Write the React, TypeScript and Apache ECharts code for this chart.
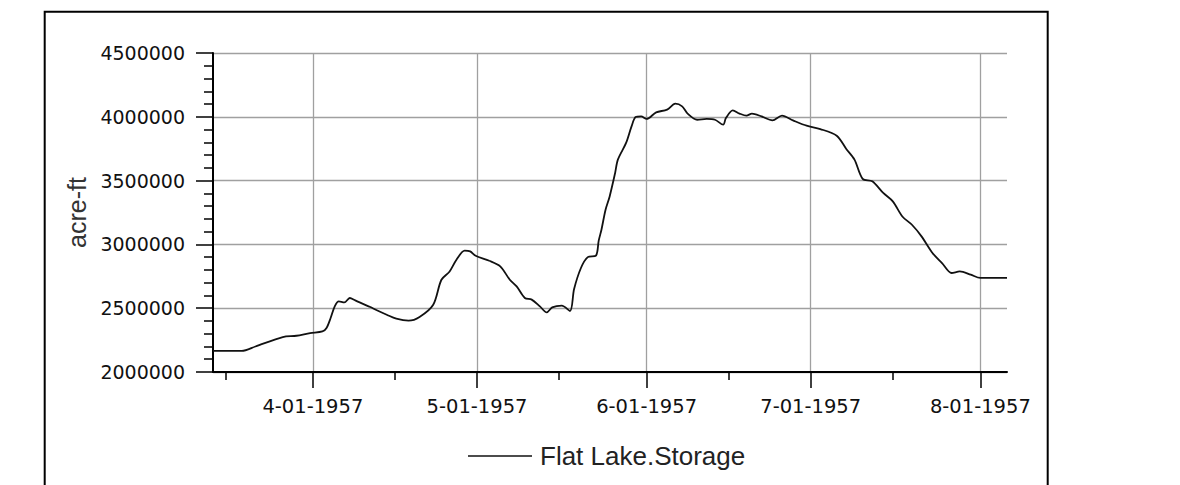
import React, { useEffect, useRef } from "react";
import * as echarts from "echarts";

// ---- data ----
const TIMES: string[] = [
  "1957-03-13T18", "1957-03-19T00", "1957-03-21T12", "1957-03-26T12", "1957-03-29T00",
  "1957-03-31T12", "1957-04-02T18", "1957-04-03T12", "1957-04-04T06", "1957-04-05T00",
  "1957-04-05T18", "1957-04-06T18", "1957-04-07T18", "1957-04-08T18", "1957-04-11T12",
  "1957-04-12T12", "1957-04-14T12", "1957-04-16T06", "1957-04-18T12", "1957-04-20T12",
  "1957-04-23T00", "1957-04-24T12", "1957-04-26T00", "1957-04-27T06", "1957-04-28T18",
  "1957-04-29T18", "1957-04-30T18", "1957-05-03T06", "1957-05-05T06", "1957-05-07T00",
  "1957-05-08T06", "1957-05-09T18", "1957-05-11T00", "1957-05-12T12", "1957-05-13T18",
  "1957-05-14T18", "1957-05-16T12", "1957-05-18T00", "1957-05-18T18", "1957-05-20T00",
  "1957-05-21T06", "1957-05-22T18", "1957-05-23T06", "1957-05-23T18", "1957-05-24T12",
  "1957-05-25T06", "1957-05-26T06", "1957-05-26T18", "1957-05-28T06", "1957-05-29T06",
  "1957-05-30T00", "1957-05-31T00", "1957-06-01T00", "1957-06-02T18", "1957-06-04T18",
  "1957-06-06T06", "1957-06-07T12", "1957-06-08T12", "1957-06-10T06", "1957-06-12T00",
  "1957-06-13T12", "1957-06-15T00", "1957-06-15T12", "1957-06-16T18", "1957-06-18T00",
  "1957-06-19T06", "1957-06-20T06", "1957-06-22T00", "1957-06-24T00", "1957-06-25T18",
  "1957-06-27T18", "1957-06-30T06", "1957-07-02T18", "1957-07-05T18", "1957-07-07T12",
  "1957-07-09T00", "1957-07-10T12", "1957-07-12T06", "1957-07-14T06", "1957-07-16T00",
  "1957-07-17T18", "1957-07-19T12", "1957-07-21T06", "1957-07-23T06", "1957-07-25T00",
  "1957-07-26T18", "1957-07-28T06", "1957-07-30T06", "1957-08-01T00", "1957-08-05T21",
];

const STORAGE: number[] = [
  2165000, 2165000, 2200000, 2274000, 2284000,
  2305000, 2318000, 2345000, 2423000, 2514000,
  2553000, 2545000, 2580000, 2561000, 2509000,
  2488000, 2449000, 2418000, 2402000, 2431000,
  2527000, 2723000, 2788000, 2880000, 2951000,
  2945000, 2911000, 2872000, 2828000, 2723000,
  2671000, 2580000, 2567000, 2514000, 2467000,
  2506000, 2520000, 2478000, 2650000, 2815000,
  2900000, 2912000, 3030000, 3115000, 3272000,
  3376000, 3560000, 3664000, 3795000, 3925000,
  3998000, 4003000, 3983000, 4035000, 4056000,
  4103000, 4082000, 4025000, 3977000, 3983000,
  3977000, 3938000, 3990000, 4050000, 4025000,
  4009000, 4025000, 4003000, 3972000, 4009000,
  3972000, 3930000, 3904000, 3852000, 3748000,
  3664000, 3513000, 3494000, 3403000, 3337000,
  3219000, 3154000, 3063000, 2933000, 2854000,
  2776000, 2788000, 2763000, 2737000, 2737000,
];

const MONTH_TICKS: string[] = ["1957-04-01T00", "1957-05-01T00", "1957-06-01T00", "1957-07-01T00", "1957-08-01T00"];
const MID_TICKS: string[] = ["1957-03-16T00", "1957-04-16T00", "1957-05-16T00", "1957-06-16T00", "1957-07-16T00"];
const X_RANGE: string[] = ["1957-03-13T18", "1957-08-05T21"];
const Y_MIN = 2000000;
const Y_MAX = 4500000;
const Y_STEP = 500000;
const SERIES_NAME = "Flat Lake.Storage";
const Y_TITLE = "acre-ft";

const ts = (s: string) => Date.parse(s + ":00:00Z");

const fmtDate = (v: number) => {
  const d = new Date(v);
  return `${d.getUTCMonth() + 1}-${String(d.getUTCDate()).padStart(2, "0")}-${d.getUTCFullYear()}`;
};

export default function App() {
  const ref = useRef<HTMLDivElement>(null);

  useEffect(() => {
    if (!ref.current) return;
    const chart = echarts.init(ref.current, null, { renderer: "svg" });
    const xMin = ts(X_RANGE[0]);
    const xMax = ts(X_RANGE[1]);
    const monthVals = MONTH_TICKS.map(ts);
    const midVals = MID_TICKS.map(ts);
    const data = TIMES.map((t, i) => [ts(t), STORAGE[i]]);

    chart.setOption({
      animation: false,
      backgroundColor: "#ffffff",
      grid: { left: 213, top: 53, width: 794, height: 319, containLabel: false },
      graphic: [
        {
          type: "rect",
          shape: { x: 44.7, y: 11.8, width: 1003, height: 520 },
          style: { fill: "none", stroke: "#000", lineWidth: 2 },
          silent: true,
        },
      ],
      legend: {
        left: 468,
        top: 443,
        padding: 0,
        icon: "rect",
        itemWidth: 64,
        itemHeight: 1.6,
        itemGap: 10,
        itemStyle: { color: "#111" },
        textStyle: { fontFamily: "Liberation Sans", fontSize: 26, color: "#222", padding: [0, 0, 0, 3] },
        data: [SERIES_NAME],
      },
      xAxis: [
        {
          type: "value",
          min: xMin,
          max: xMax,
          position: "bottom",
          axisLine: { show: true, onZero: false, lineStyle: { color: "#000", width: 2 } },
          axisTick: {
            show: true,
            customValues: monthVals,
            length: 16,
            lineStyle: { color: "#000", width: 1.5 },
          },
          axisLabel: {
            customValues: monthVals,
            formatter: (v: number) => fmtDate(v),
            margin: 24,
            fontFamily: "DejaVu Sans",
            fontSize: 19.5,
            color: "#111",
          },
          splitLine: { show: true, lineStyle: { color: "#a0a0a0", width: 1.3 } },
        },
        {
          type: "value",
          min: xMin,
          max: xMax,
          position: "bottom",
          offset: 0,
          axisLine: { show: false },
          axisTick: {
            show: true,
            customValues: midVals,
            length: 8,
            lineStyle: { color: "#000", width: 1.5 },
          },
          axisLabel: { show: false },
          splitLine: { show: false },
        },
      ],
      yAxis: {
        type: "value",
        min: Y_MIN,
        max: Y_MAX,
        interval: Y_STEP,
        name: Y_TITLE,
        nameLocation: "middle",
        nameGap: 89,
        nameTextStyle: { fontFamily: "Liberation Sans", fontSize: 25, color: "#333" },
        axisLine: { show: true, lineStyle: { color: "#000", width: 2 } },
        axisTick: { show: true, length: 17, lineStyle: { color: "#000", width: 1.5 } },
        minorTick: { show: true, splitNumber: 5, length: 9, lineStyle: { color: "#000", width: 1.5 } },
        axisLabel: {
          margin: 28,
          formatter: (v: number) => String(v),
          fontFamily: "DejaVu Sans",
          fontSize: 19,
          color: "#111",
        },
        splitLine: { show: true, lineStyle: { color: "#a0a0a0", width: 1.3 } },
      },
      series: [
        {
          name: SERIES_NAME,
          type: "line",
          xAxisIndex: 0,
          data,
          symbol: "none",
          smooth: 0.3,
          lineStyle: { color: "#111", width: 1.8 },
          itemStyle: { color: "#111" },
        },
      ],
    });
    return () => chart.dispose();
  }, []);

  return (
    <div
      ref={ref}
      style={{ position: "absolute", left: 0, top: 0, width: 1180, height: 485, background: "#fff" }}
    />
  );
}
